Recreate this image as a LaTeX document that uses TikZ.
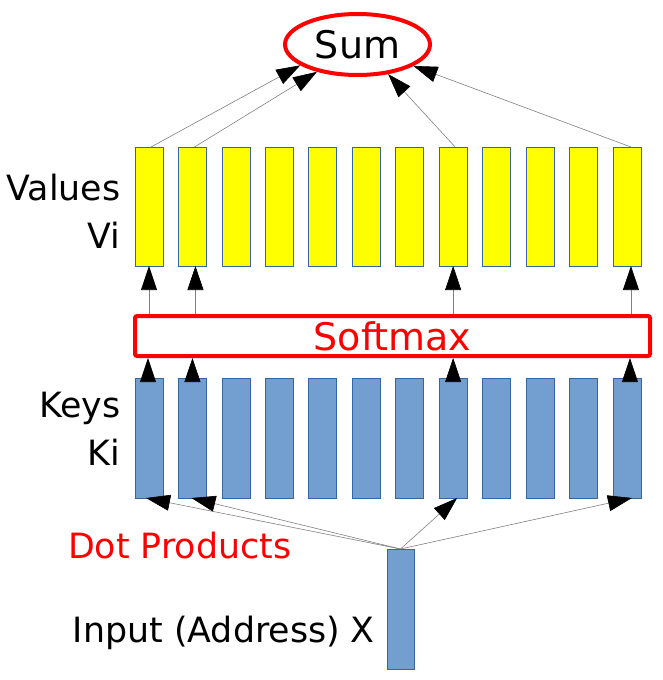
\documentclass[tikz,border=0pt]{standalone}
\usepackage{fontspec}
\setmainfont{DejaVu Sans}
\usetikzlibrary{arrows.meta,shapes.geometric}
\definecolor{boxline}{HTML}{3465A4}
\definecolor{keyfill}{HTML}{729FCF}
\definecolor{valfill}{HTML}{FFFF00}
\definecolor{redline}{HTML}{FF0000}
\begin{document}
\begin{tikzpicture}[x=1pt,y=-1pt,
  valbox/.style={draw=boxline, fill=valfill, line width=0.8pt, minimum width=28pt, minimum height=119pt, inner sep=0pt, outer sep=0pt},
  keybox/.style={draw=boxline, fill=keyfill, line width=0.8pt, minimum width=28pt, minimum height=120pt, inner sep=0pt, outer sep=0pt},
  lbl/.style={inner sep=0pt, font=\fontsize{34.8}{40}\selectfont},
  arr/.style={draw=gray, line width=0.6pt, -{Triangle[length=24pt,width=16pt,color=black]}}
]
\useasboundingbox (0,0) rectangle (662,680);
% value and key boxes
\foreach \i in {1,...,12}{
  \node[valbox] (v\i) at ({149+(\i-1)*43.45},206.5) {};
  \node[keybox] (k\i) at ({149+(\i-1)*43.45},438) {};
}
% sum ellipse
\node[ellipse, draw=redline, line width=4pt, minimum width=145pt, minimum height=61pt, inner sep=0pt, font=\fontsize{38}{44}\selectfont] (sum) at (357.5,44.5) {Sum};
% softmax
\node[draw=redline, line width=4pt, rounded corners=2pt, minimum width=515pt, minimum height=40pt, inner sep=0pt, text=redline, font=\fontsize{38}{44}\selectfont] (soft) at (392.5,336) {Softmax};
% input
\node[keybox, minimum width=27pt, minimum height=120pt] (in) at (400.5,609) {};
% labels
\node[lbl, anchor=base east] (lv) at (120.5,200) {Values};
\node[lbl, anchor=base east] (lvi) at (120.5,248) {Vi};
\node[lbl, anchor=base east] (lk) at (120.5,417) {Keys};
\node[lbl, anchor=base east] (lki) at (120.5,465) {Ki};
\node[lbl, anchor=base west, text=redline] (ldot) at (68,558) {Dot Products};
\node[lbl, anchor=base east] (lin) at (375,642) {Input (Address) X};
% values -> sum
\draw[arr] ([xshift=2pt]v1.north) -- (sum.200);
\draw[arr] ([xshift=2pt]v2.north) -- (sum.214);
\draw[arr] ([xshift=2pt]v8.north) -- (sum.316);
\draw[arr] ([xshift=4pt]v12.north) -- (sum.339);
% softmax -> values
\foreach \i/\s in {1/0,2/3,8/0,12/4}{
  \draw[arr] ([xshift=\s pt]v\i.south |- soft.north) -- ([xshift=\s pt]v\i.south);
}
% keys -> softmax
\foreach \i/\s in {1/-1,2/0,8/0,12/3}{
  \draw[arr] ([xshift=\s pt]k\i.north) -- ([xshift=\s pt]k\i.north |- soft.south);
}
% input -> keys
\draw[arr] (in.north) -- ([xshift=-3pt]k1.south);
\draw[arr] (in.north) -- ([xshift=-1pt]k2.south);
\draw[arr] (in.north) -- ([xshift=4pt]k8.south);
\draw[arr] (in.north) -- ([xshift=5pt]k12.south);
\end{tikzpicture}
\end{document}
